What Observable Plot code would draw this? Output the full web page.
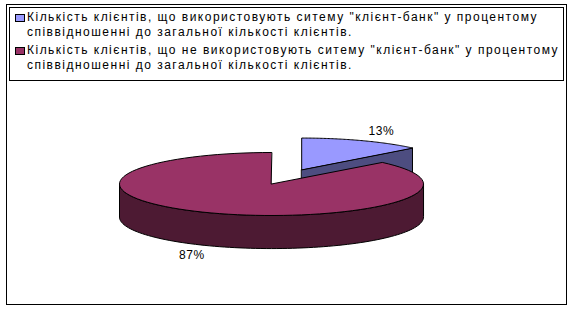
<!DOCTYPE html>
<html>
<head>
<meta charset="utf-8">
<script src="https://cdn.jsdelivr.net/npm/d3@7"></script>
<script src="https://cdn.jsdelivr.net/npm/@observablehq/plot@0.6"></script>
<style>
  html, body { margin: 0; padding: 0; background: #fff; }
  body { width: 576px; height: 310px; position: relative; overflow: hidden;
         font-family: Arial, "Liberation Sans", sans-serif; }
  #frame { position: absolute; left: 6px; top: 4px; width: 559px; height: 299px;
           border: 1px solid #000; background: #fff; }
  #legend { margin: 2px 0 0 2px; width: 553px; height: 72px; border: 1px solid #000;
            font-size: 12px; line-height: 15px; color: #000; overflow: hidden; }
  .entry { position: relative; padding-left: 17px; }
  .entry:first-child { margin-top: 2px; }
  .entry + .entry { margin-top: 3px; }
  .swatch { position: absolute; left: 5px; top: 4px; width: 8px; height: 6px;
            border: 1px solid #000; }
  .line { display: block; width: max-content; white-space: nowrap; }
  #chart svg { display: block; }
</style>
</head>
<body>
<div id="frame">
  <div id="legend"></div>
  <div id="chart"></div>
</div>
<script>
// Share of bank clients using / not using the "client-bank" system, %
const categories = [
  "Кількість клієнтів, що використовують ситему \"клієнт-банк\" у процентому співвідношенні до загальної кількості клієнтів.",
  "Кількість клієнтів, що не використовують ситему \"клієнт-банк\" у процентому співвідношенні до загальної кількості клієнтів."
];
const shares = [13, 87];
const sliceColors = ["#9999FF", "#993366"];

// ---- legend ----
const legend = d3.select("#legend");
const wrapBefore = " співвідношенні";
categories.forEach((name, i) => {
  const cut = name.indexOf(wrapBefore);
  const entry = legend.append("div").attr("class", "entry");
  entry.append("span").attr("class", "swatch").style("background", sliceColors[i]);
  entry.append("span").attr("class", "line").text(name.slice(0, cut));
  entry.append("span").attr("class", "line").text(name.slice(cut + 1));
});
// spread the glyphs the way the legend text is tracked
{
  const first = legend.select(".line").node();
  const natural = first.getBoundingClientRect().width;
  const n = first.textContent.length;
  const spacing = (511 - natural) / n;
  legend.selectAll(".line").style("letter-spacing", spacing + "px");
}

// ---- 3D pie geometry (unit radius; y is the tilted depth axis) ----
const TAU = 2 * Math.PI;
const WALL = 1.05;        // side wall height, in y units
const EXPLODE = 0.5;      // offset of the pulled-out first slice
const STEPS = 90;
const total = d3.sum(shares);
let acc = 0;
const slices = shares.map((v, i) => {
  const a0 = acc / total * TAU; acc += v;
  const a1 = acc / total * TAU;
  const mid = (a0 + a1) / 2;
  const d = i === 0 ? EXPLODE : 0;
  return {i, v, a0, a1, mid, ox: d * Math.sin(mid), oy: d * Math.cos(mid)};
});

const shade = c => { const k = d3.rgb(c); return d3.rgb(k.r / 2, k.g / 2, k.b / 2).formatHex(); };
const P = (s, a, drop = 0) => ({x: s.ox + Math.sin(a), y: s.oy + Math.cos(a) - drop});
const arc = (s, a0, a1, drop = 0) =>
  d3.range(STEPS + 1).map(k => P(s, a0 + (a1 - a0) * k / STEPS, drop));

const faces = [];
const addFace = (pts, fill) => {
  const face = faces.length ? faces[faces.length - 1].face + 1 : 0;
  pts.forEach(p => faces.push({...p, face, fill}));
};
// back slices first, so nearer ones paint over them
[...slices].sort((a, b) => Math.cos(b.mid) - Math.cos(a.mid)).forEach(s => {
  const top = sliceColors[s.i], side = shade(top);
  const c = {x: s.ox, y: s.oy};
  const cLow = {x: s.ox, y: s.oy - WALL};
  if (Math.sin(s.a1) > 1e-9) addFace([c, P(s, s.a1), P(s, s.a1, WALL), cLow], side);
  if (Math.sin(s.a0) < -1e-9) addFace([c, P(s, s.a0), P(s, s.a0, WALL), cLow], side);
  const lo = Math.max(s.a0, Math.PI / 2), hi = Math.min(s.a1, 3 * Math.PI / 2);
  if (lo < hi) addFace([...arc(s, lo, hi), ...arc(s, hi, lo, WALL)], side);
  addFace([c, ...arc(s, s.a0, s.a1)], top);
});

// percentage labels just outside each slice
const LABEL_R = 1.32;
const labelData = slices.map(s => ({
  x: s.ox + LABEL_R * Math.sin(s.mid),
  y: s.oy + LABEL_R * Math.cos(s.mid) - (Math.cos(s.mid) < 0 ? WALL : 0),
  text: `${s.v}%`
}));

const cx = 264, cy = 102.5, rx = 152, ry = 31.5;
const chart = Plot.plot({
  width: 559,
  height: 223,
  margin: 0,
  style: {background: "transparent", fontFamily: "Arial, 'Liberation Sans', sans-serif", fontSize: "12px", color: "#000"},
  x: {domain: [-1, 1], range: [cx - rx, cx + rx], axis: null},
  y: {domain: [-1, 1], range: [cy + ry, cy - ry], axis: null},
  color: {type: "identity"},
  marks: [
    Plot.line(faces, {x: "x", y: "y", z: "face", fill: "fill", stroke: "#000",
                      strokeWidth: 1, curve: "linear-closed", strokeLinejoin: "miter"}),
    Plot.text(labelData, {x: "x", y: "y", text: "text", fill: "#000", fontSize: 12})
  ]
});
d3.select(chart).selectAll("text").style("letter-spacing", "0.6px");
document.getElementById("chart").appendChild(chart);
</script>
</body>
</html>
